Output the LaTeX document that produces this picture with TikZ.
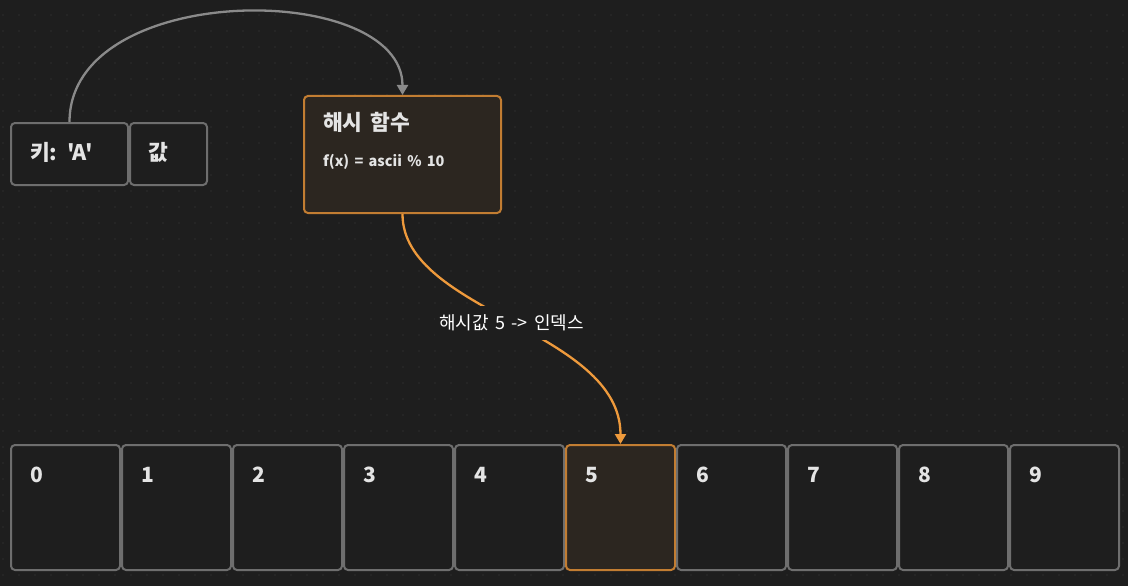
\documentclass[tikz,border=0pt]{standalone}
\usepackage{fontspec}
\setmainfont{Noto Sans CJK KR}
\newfontfamily\krfont{Noto Sans CJK KR}
\newfontfamily\krwide{Noto Sans CJK KR}[WordSpace=1.6]
\usetikzlibrary{arrows.meta,calc}
\definecolor{bg}{HTML}{1E1E1E}
\definecolor{dotc}{HTML}{2E2E2E}
\definecolor{grayb}{HTML}{6E6E6E}
\definecolor{graya}{HTML}{8A8A8A}
\definecolor{orb}{HTML}{C27D32}
\definecolor{ora}{HTML}{EE9A3C}
\definecolor{orfill}{HTML}{2C2620}
\definecolor{txt}{HTML}{E4E4E4}
\tikzset{
  graybox/.style={draw=grayb, line width=2pt, fill=bg, rounded corners=4pt, inner sep=0pt, anchor=north west},
  orbox/.style={draw=orb, line width=2pt, fill=orfill, rounded corners=4pt, inner sep=0pt, anchor=north west},
  boxtext/.style={text=txt, inner sep=0pt, anchor=base west, font=\krfont\fontsize{21.5}{24}\selectfont\bfseries},
  subtext/.style={text=txt, inner sep=0pt, anchor=base west, font=\krwide\fontsize{14.5}{17}\selectfont\bfseries},
  celltext/.style={text=txt, inner sep=0pt, anchor=base west, font=\krfont\fontsize{21}{24}\selectfont\bfseries},
  grayarrow/.style={draw=graya, line width=2.3pt, -{Triangle[length=10pt,width=11pt]}},
  orarrow/.style={draw=ora, line width=2.3pt, -{Triangle[length=10pt,width=11pt]}},
  edgelabel/.style={fill=bg, text=white, inner xsep=4pt, inner ysep=9pt, font=\krfont\fontsize{18}{20}\selectfont}
}
\begin{document}
\begin{tikzpicture}[x=1pt,y=-1pt]
\fill[bg] (0,0) rectangle (1128,586);
\useasboundingbox (0,0) rectangle (1128,586);
\foreach \x in {3,19,...,1123} {
  \foreach \y in {15,31,...,575} {
    \fill[dotc] (\x,\y) circle (0.9);
  }
}
% key / value
\node[graybox, minimum width=117, minimum height=62] (key) at (10,122) {};
\node[graybox, minimum width=77, minimum height=62] (val) at (129,122) {};
\node[boxtext] (keyt) at ($(key.north west)+(20,38)$) {키: 'A'};
\node[boxtext] (valt) at ($(val.north west)+(19,38)$) {값};
% hash function
\node[orbox, minimum width=197, minimum height=117] (hash) at (303,95) {};
\node[boxtext] (hasht) at ($(hash.north west)+(20,36)$) {해시 함수};
\node[subtext] (hashs) at ($(hash.north west)+(20,71)$) {f(x) = ascii \% 10};
% array cells
\foreach \i in {0,...,9} {
  \ifnum\i=5
    \node[orbox, minimum width=109, minimum height=125] (c\i) at ({10+111*\i},444) {};
  \else
    \node[graybox, minimum width=109, minimum height=125] (c\i) at ({10+111*\i},444) {};
  \fi
  \node[celltext] (l\i) at ($(c\i.north west)+(20,38)$) {\i};
}
% connectors
\draw[grayarrow] (key.north) .. controls +(0,-142) and +(0,-115) .. (hash.north);
\draw[orarrow] (hash.south) .. controls +(0,98) and +(0,-114) .. node[edgelabel, pos=0.5] (lab) {해시값 5 -> 인덱스} (c5.north);
\end{tikzpicture}
\end{document}
